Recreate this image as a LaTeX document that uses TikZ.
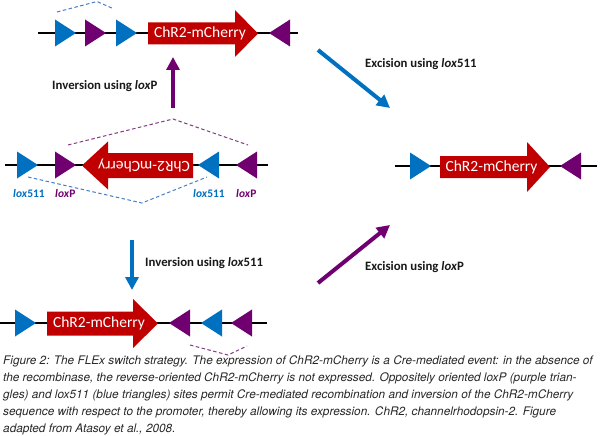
\documentclass[tikz,border=0pt]{standalone}
\usepackage{fontspec}
\setmainfont{Carlito}
\newfontfamily\capfont{TeX Gyre Heros}
\usetikzlibrary{arrows.meta}
\definecolor{lblue}{RGB}{0,112,192}
\definecolor{lpurple}{RGB}{112,0,112}
\definecolor{gred}{RGB}{192,0,0}
\definecolor{dblue}{RGB}{70,125,200}
\definecolor{dpurple}{RGB}{130,60,130}
\definecolor{captxt}{RGB}{40,40,40}
\tikzset{
  dna/.style={line width=1.2pt,black},
  gene/.style={fill=gred,draw=none},
  genetext/.style={text=white,font=\fontsize{15.5}{16}\selectfont,inner sep=0pt},
  sitep/.style={fill=lpurple,draw=none},
  siteb/.style={fill=lblue,draw=none},
  dashb/.style={dblue,line width=1pt,dash pattern=on 3.5pt off 2.5pt},
  dashp/.style={dpurple,line width=1pt,dash pattern=on 3.5pt off 2.5pt},
  steplbl/.style={font=\bfseries\fontsize{12.8}{14}\selectfont,text=black!90,inner sep=0pt,anchor=base west},
  loxlbl/.style={font=\bfseries\fontsize{11.5}{13}\selectfont,inner sep=0pt,anchor=base west},
  bigarrow/.style={line width=4pt,-{Triangle[width=13pt,length=13pt]}},
}
\newcommand{\rtri}[4]{\fill[#4] (#1,#2-13.5)--(#1+21,#2)--(#1,#2+13.5)--cycle;}
\newcommand{\ltri}[4]{\fill[#4] (#1,#2-13.5)--(#1-21,#2)--(#1,#2+13.5)--cycle;}
\begin{document}
\begin{tikzpicture}[x=1pt,y=-1pt]
\useasboundingbox (0,0) rectangle (600,436);
\fill[white] (0,0) rectangle (600,436);
% ---------- Top row ----------
\draw[dna] (38,33) -- (298,33);
\rtri{55}{33}{}{siteb}
\rtri{85}{33}{}{sitep}
\rtri{116}{33}{}{siteb}
\fill[gene] (148,22.5)--(235,22.5)--(235,10)--(258,33.5)--(235,57)--(235,44.5)--(148,44.5)--cycle;
\node[genetext] (t1) at (200,33.5) {ChR2-mCherry};
\ltri{290}{33}{}{sitep}
\draw[dashb] (57,12) -- (97,1.5) -- (114,9);
% ---------- Middle row ----------
\draw[dna] (5,165) -- (268,165);
\rtri{17}{165}{}{siteb}
\rtri{55}{165}{}{sitep}
\fill[gene] (193,153)--(108,153)--(108,141.5)--(82,165.5)--(108,189.5)--(108,178)--(193,178)--cycle;
\node[genetext,rotate=180] (t2) at (144,165.5) {ChR2-mCherry};
\ltri{219}{165}{}{siteb}
\ltri{257}{165}{}{sitep}
\draw[dashp] (68,145) -- (173,119) -- (248,145);
\draw[dashb] (28,177) -- (142,203) -- (207,177);
\node[loxlbl,text=lblue] (l1) at (13,197) {\textit{lox}511};
\node[loxlbl,text=lpurple] (l2) at (55,197) {\textit{lox}P};
\node[loxlbl,text=lblue] (l3) at (193,197) {\textit{lox}511};
\node[loxlbl,text=lpurple] (l4) at (236,197) {\textit{lox}P};
% ---------- Bottom row ----------
\draw[dna] (0,323) -- (267,323);
\rtri{15}{323}{}{siteb}
\fill[gene] (47,311.5)--(133,311.5)--(133,299)--(158,323.5)--(133,348)--(133,335.5)--(47,335.5)--cycle;
\node[genetext] (t3) at (99,323.5) {ChR2-mCherry};
\ltri{190}{323}{}{sitep}
\ltri{222}{323}{}{siteb}
\ltri{252}{323}{}{sitep}
\draw[dashp] (190,345) -- (228,355) -- (247,346);
% ---------- Right row ----------
\draw[dna] (395,166) -- (597,166);
\rtri{410}{166}{}{siteb}
\fill[gene] (440,156)--(527,156)--(527,142)--(550,167)--(527,192)--(527,178)--(440,178)--cycle;
\node[genetext] (t4) at (491.5,167) {ChR2-mCherry};
\ltri{581}{166}{}{sitep}
% ---------- Arrows ----------
\coordinate (a1s) at (173,108); \coordinate (a1e) at (173,57);
\coordinate (a2s) at (132,240); \coordinate (a2e) at (132,290);
\coordinate (a3s) at (318,50);  \coordinate (a3e) at (390,108);
\coordinate (a4s) at (318,283); \coordinate (a4e) at (390,225);
\draw[bigarrow,lpurple] (a1s) -- (a1e);
\draw[bigarrow,lblue] (a2s) -- (a2e);
\draw[bigarrow,lblue] (a3s) -- (a3e);
\draw[bigarrow,lpurple] (a4s) -- (a4e);
\node[steplbl] (s1) at (52,90) {Inversion using \textit{lox}P};
\node[steplbl] (s2) at (145,266) {Inversion using \textit{lox}511};
\node[steplbl] (s3) at (365,68) {Excision using \textit{lox}511};
\node[steplbl] (s4) at (365,270) {Excision using \textit{lox}P};
% ---------- Caption ----------
\node[anchor=north west,inner sep=0pt,align=left,text=captxt,
      font=\capfont\itshape\fontsize{11.8}{17}\selectfont] (cap) at (3,355.5)
{Figure 2: The FLEx switch strategy. The expression of ChR2-mCherry is a Cre-mediated event: in the absence of\\
the recombinase, the reverse-oriented ChR2-mCherry is not expressed. Oppositely oriented loxP (purple trian-\\
gles) and lox511 (blue triangles) sites permit Cre-mediated recombination and inversion of the ChR2-mCherry\\
sequence with respect to the promoter, thereby allowing its expression. ChR2, channelrhodopsin-2. Figure\\
adapted from Atasoy et al., 2008.};
\end{tikzpicture}
\end{document}
